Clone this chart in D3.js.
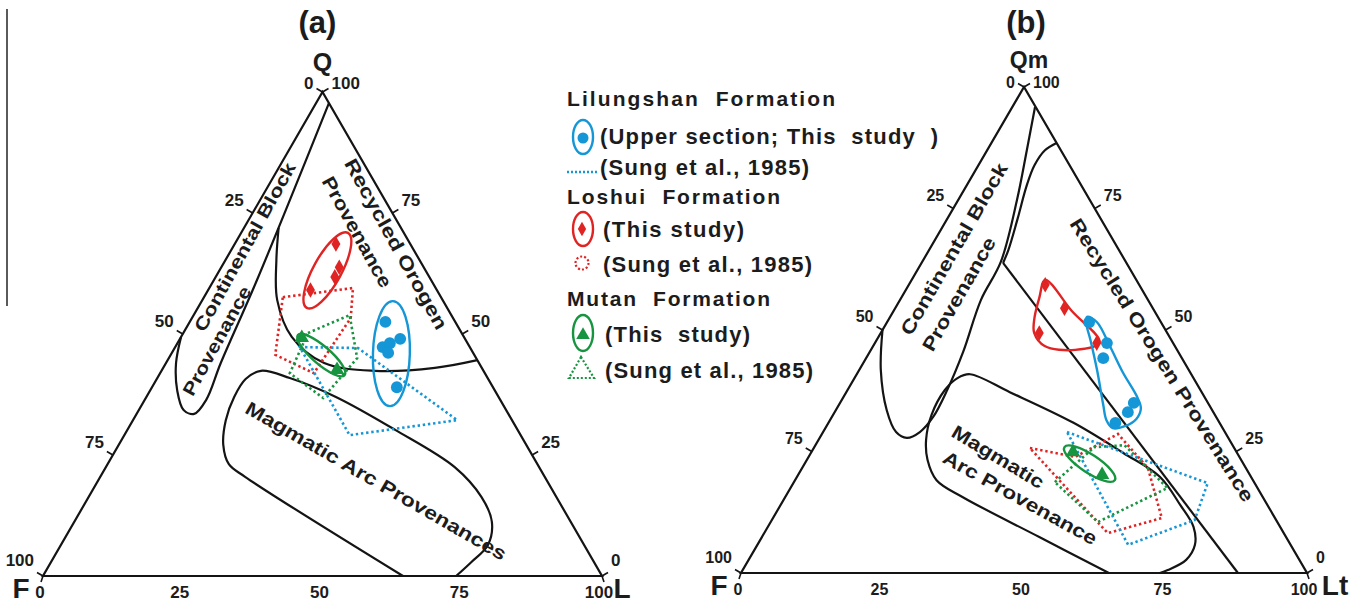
<!DOCTYPE html>
<html>
<head>
<meta charset="utf-8">
<script src="https://cdn.jsdelivr.net/npm/d3@7"></script>
<style>
  html, body { margin: 0; padding: 0; background: #fff; }
  svg { display: block; }
  text { font-family: "Liberation Sans", Arial, Helvetica, sans-serif; font-weight: bold; fill: #1c1c1c; white-space: pre; }
</style>
</head>
<body>
<svg id="chart" width="1364" height="606"></svg>
<script>
// All ternary points are [L, Q] in percent; the third component F = 100 - L - Q.
const tickValues = [0, 25, 50, 75, 100];

// ---- (a) Q-F-L diagram ----
const qflLilungshan = [[35.0, 52.5], [39.4, 49.0], [37.1, 47.3], [38.0, 48.1], [38.7, 46.1], [43.8, 39.0]];
const qflLoshui = [[18.1, 68.6], [21.1, 63.8], [21.3, 61.8], [18.3, 59.1]];
const qflMutan = [[21.7, 49.2], [31.3, 42.6]];
// enclosing ellipses: two ends of the long axis + half width (percent)
const qflLilungshanEnvelope = [[34.2, 56.8], [44.5, 35.1]];
const qflLilungshanEnvelopeHalf = 3.3;
const qflLoshuiEnvelope = [[19.5, 55.4], [19.1, 70.9]];
const qflLoshuiEnvelopeHalf = 2.5;
const qflMutanEnvelope = [[20.7, 49.8], [33.2, 41.5]];
const qflMutanEnvelopeHalf = 1.6;
// Sung et al. (1985) fields
const qflLilungshanSung = [[22.3, 47.3], [32.8, 47.1], [58.0, 32.2], [40.3, 29.1]];
const qflLoshuiSung = [[14.1, 57.6], [25.7, 59.5], [28.4, 53.3], [27.5, 41.9], [18.7, 45.7]];
const qflMutanSung = [[22.3, 50.2], [27.9, 53.9], [33.7, 45.0], [31.7, 36.8], [23.2, 41.9]];
// provenance field boundaries
const qflContinental = [[2.3, 97.7], [7.7, 61.2], [9.8, 44.0], [11.0, 36.4], [10.3, 33.5], [8.0, 34.3], [4.8, 38.4], [1.8, 44.0], [0, 49.4]];
const qflRecycled = [[6.2, 71.9], [9.1, 65.3], [13.4, 57.0], [19.8, 49.4], [28.3, 44.0], [38.2, 42.4], [48.6, 43.0], [55.4, 44.6]];
// runs from the base, up the lower-left side, round the top and back down to the base
const qflMagmatic = [[64.4, 0], [25.9, 20.5], [21.7, 23.1], [18.7, 27.1], [16.6, 32.2], [15.7, 37.0], [15.9, 40.7], [17.8, 42.4],
  [23.7, 40.9], [33.9, 37.0], [47.9, 30.2], [62.4, 22.5], [70.3, 16.3], [74.7, 11.2], [76.4, 6.4], [75.2, 2.9], [73.9, 0]];

// ---- (b) Qm-F-Lt diagram ----
const qmLilungshan = [[35.7, 51.6], [41.0, 47.3], [41.9, 44.2], [51.9, 35.0], [51.8, 33.1], [50.7, 30.9]];
const qmLoshui = [[24.1, 59.3], [29.9, 54.5], [28.0, 49.4], [39.2, 47.3]];
const qmMutan = [[46.2, 24.9], [53.7, 20.2]];
const qmLilungshanEnvelope = [[34.8, 52.7], [37.1, 51.6], [42.0, 46.5], [46.9, 41.2], [51.9, 36.2], [53.7, 33.9], [54.0, 31.7],
  [52.7, 30.2], [50.8, 29.8], [48.8, 31.5], [46.7, 34.6], [42.0, 41.8], [37.8, 47.9], [35.3, 51.4]];
const qmLoshuiEnvelope = [[23.6, 60.3], [31.5, 53.9], [39.6, 47.5], [36.1, 45.9], [30.3, 46.7], [27.1, 49.4], [25.6, 52.5], [24.4, 56.6]];
const qmMutanEnvelope = [[44.2, 25.9], [56.5, 19.1]];
const qmMutanEnvelopeHalf = 1.6;
const qmLilungshanSung = [[43.1, 29.0], [73.2, 18.5], [74.7, 10.9], [65.5, 5.8]];
const qmLoshuiSung = [[38.2, 25.7], [47.1, 23.9], [52.3, 28.6], [61.1, 21.6], [68.7, 11.3], [60.7, 8.2]];
const qmMutanSung = [[46.1, 18.7], [49.5, 25.9], [54.6, 26.3], [66.6, 17.5], [57.8, 10.5]];
const qmContinental = [[4.0, 95.9], [7.0, 87.0], [10.4, 76.7], [13.9, 64.0], [14.3, 56.2], [16.5, 45.5], [17.6, 37.7], [17.9, 32.1],
  [17.1, 29.0], [15.4, 27.8], [12.9, 29.0], [9.0, 33.5], [3.8, 41.8], [0, 50.0]];
const qmRecycledArc = [[11.5, 88.5], [10.2, 87.0], [9.9, 83.9], [10.6, 79.8], [12.5, 72.6], [14.0, 66.5], [14.4, 63.8]];
const qmRecycledLine = [[14.4, 63.8], [87.8, 0]];
const qmMagmatic = [[65.0, 0], [49.0, 7.4], [31.4, 15.6], [25.0, 19.1], [21.3, 23.3], [19.0, 27.4], [17.4, 32.5], [17.2, 37.7],
  [18.2, 40.1], [20.0, 40.9], [28.9, 37.2], [43.3, 30.9], [55.2, 24.7], [64.1, 19.8], [70.6, 14.0], [75.2, 9.5], [77.3, 5.8],
  [77.3, 2.7], [75.1, 0.6], [74.0, 0]];

const BLUE = "#1596d6", RED = "#e02424", GREEN = "#17943f", INK = "#141414";

const svg = d3.select("#chart");

// thin rule along the left margin
svg.append("line").attr("x1", 7).attr("x2", 7).attr("y1", 9).attr("y2", 306)
  .attr("stroke", INK).attr("stroke-width", 1.4);

function panel(box) {
  const sx = d3.scaleLinear().domain([0, 100]).range([box.x0, box.x1]);
  const sy = d3.scaleLinear().domain([0, 100]).range([box.yBase, box.yApex]);
  const proj = d => [sx(d[0] + d[1] / 2), sy(d[1])];
  const unit = (box.x1 - box.x0) / 100;
  const g = svg.append("g");
  return { g, proj, unit, sx, sy };
}

function drawFrame(P, box, labels) {
  const { g, proj } = P;
  const corners = [proj([0, 0]), proj([100, 0]), proj([0, 100])];
  g.append("path").attr("d", d3.line()([corners[0], corners[1], corners[2]]) + "Z")
    .attr("fill", "none").attr("stroke", INK).attr("stroke-width", 2.2).attr("stroke-linejoin", "miter");

  // left edge: F percent (0 at apex, 100 at F corner)
  tickValues.forEach(v => {
    const p = proj([0, 100 - v]);
    const lift = v === 0 ? box.apexLift : v === 100 ? box.cornerLift : box.tickLift;
    g.append("line").attr("x1", p[0]).attr("y1", p[1]).attr("x2", p[0] - 6).attr("y2", p[1] - 3.5)
      .attr("stroke", INK).attr("stroke-width", 1.6);
    g.append("text").attr("x", p[0] - 9).attr("y", p[1] - lift).attr("text-anchor", "end")
      .attr("font-size", box.tickFont).text(v);
  });
  // right edge: Q percent (100 at apex, 0 at L corner)
  tickValues.forEach(v => {
    const p = proj([100 - v, v]);
    const lift = v === 100 ? box.apexLift : v === 0 ? box.cornerLift : box.tickLift;
    g.append("line").attr("x1", p[0]).attr("y1", p[1]).attr("x2", p[0] + 6).attr("y2", p[1] - 3.5)
      .attr("stroke", INK).attr("stroke-width", 1.6);
    g.append("text").attr("x", p[0] + 9).attr("y", p[1] - lift).attr("text-anchor", "start")
      .attr("font-size", box.tickFont).text(v);
  });
  // base: L percent
  tickValues.forEach(v => {
    const p = proj([v, 0]);
    if (v === 0 || v === 100) {
      g.append("line").attr("x1", p[0]).attr("y1", p[1]).attr("x2", p[0] + (v === 0 ? -2 : 2)).attr("y2", p[1] + 6)
        .attr("stroke", INK).attr("stroke-width", 1.6);
    }
    g.append("text").attr("x", p[0] - 3).attr("y", p[1] + 22).attr("text-anchor", "middle")
      .attr("font-size", box.tickFont).text(v);
  });

  const apex = proj([0, 100]);
  g.append("text").attr("x", apex[0] + box.topDx).attr("y", apex[1] - box.topLift).attr("text-anchor", "middle")
    .attr("font-size", box.topFont).text(labels.top);
  g.append("text").attr("x", corners[0][0] - 22).attr("y", corners[0][1] + 22).attr("text-anchor", "middle")
    .attr("font-size", 28).text(labels.left);
  g.append("text").attr("x", corners[1][0] + box.rightDx).attr("y", corners[1][1] + 22).attr("text-anchor", "middle")
    .attr("font-size", 28).text(labels.right);
  g.append("text").attr("x", apex[0] + box.titleDx).attr("y", 33).attr("text-anchor", "middle")
    .attr("font-size", 31).text(labels.title);
}

function field(P, pts) {
  const line = d3.line().curve(d3.curveCatmullRom.alpha(0.5));
  P.g.append("path").attr("d", line(pts.map(P.proj)))
    .attr("fill", "none").attr("stroke", INK).attr("stroke-width", 2.2);
}

function straight(P, pts) {
  P.g.append("path").attr("d", d3.line()(pts.map(P.proj)))
    .attr("fill", "none").attr("stroke", INK).attr("stroke-width", 2.2);
}

function sungField(P, pts, color) {
  P.g.append("path").attr("d", d3.line()(pts.map(P.proj)) + "Z")
    .attr("fill", "none").attr("stroke", color).attr("stroke-width", 2.6)
    .attr("stroke-dasharray", "2.4,2.8");
}

function ellipse(P, tips, half, color) {
  const a = P.proj(tips[0]), b = P.proj(tips[1]);
  const cx = (a[0] + b[0]) / 2, cy = (a[1] + b[1]) / 2;
  const rx = Math.hypot(b[0] - a[0], b[1] - a[1]) / 2;
  const ang = Math.atan2(b[1] - a[1], b[0] - a[0]) * 180 / Math.PI;
  P.g.append("ellipse").attr("cx", cx).attr("cy", cy).attr("rx", rx).attr("ry", half * P.unit)
    .attr("transform", `rotate(${ang},${cx},${cy})`)
    .attr("fill", "none").attr("stroke", color).attr("stroke-width", 2.4);
}

function envelope(P, pts, color) {
  P.g.append("path").attr("d", d3.line().curve(d3.curveCatmullRomClosed.alpha(0.5))(pts.map(P.proj)))
    .attr("fill", "none").attr("stroke", color).attr("stroke-width", 2.4);
}

function points(P, pts, type, size, color) {
  const sym = d3.symbol().type(type).size(size);
  P.g.selectAll(null).data(pts).join("path")
    .attr("d", sym)
    .attr("transform", d => { const p = P.proj(d); return `translate(${p[0]},${p[1]})`; })
    .attr("fill", color);
}

function label(g, txt, x, y, angle, len, size) {
  g.append("text").attr("transform", `translate(${x},${y}) rotate(${angle})`)
    .attr("text-anchor", "middle").attr("dominant-baseline", "central")
    .attr("font-size", size).attr("textLength", len).attr("lengthAdjust", "spacingAndGlyphs").text(txt);
}

// ---------- panel (a) ----------
const boxA = { x0: 43, x1: 602, yBase: 576, yApex: 92, tickFont: 17, tickLift: 7, apexLift: 3, cornerLift: 10,
  topFont: 25, topLift: 21, topDx: 0, rightDx: 20, titleDx: -5 };
const A = panel(boxA);
drawFrame(A, boxA, { top: "Q", left: "F", right: "L", title: "(a)" });
field(A, qflContinental);
field(A, qflRecycled);
field(A, qflMagmatic);
label(A.g, "Continental Block", 245, 247, -61, 190, 18);
label(A.g, "Provenance", 217, 341, -61, 122, 18);
label(A.g, "Recycled Orogen", 396, 244, 61, 192, 19);
label(A.g, "Provenance", 357, 232, 61, 124, 19);
label(A.g, "Magmatic Arc Provenances", 376, 481, 30, 298, 19);

sungField(A, qflLoshuiSung, RED);
sungField(A, qflMutanSung, GREEN);
sungField(A, qflLilungshanSung, BLUE);
ellipse(A, qflLoshuiEnvelope, qflLoshuiEnvelopeHalf, RED);
ellipse(A, qflLilungshanEnvelope, qflLilungshanEnvelopeHalf, BLUE);
ellipse(A, qflMutanEnvelope, qflMutanEnvelopeHalf, GREEN);
points(A, qflLoshui, d3.symbolDiamond, 70, RED);
points(A, qflLilungshan, d3.symbolCircle, 110, BLUE);
points(A, qflMutan, d3.symbolTriangle, 90, GREEN);

// ---------- panel (b) ----------
const boxB = { x0: 741, x1: 1307, yBase: 573, yApex: 87, tickFont: 16, tickLift: 8, apexLift: -1, cornerLift: 10,
  topFont: 23, topLift: 19, topDx: 5, rightDx: 28, titleDx: 2 };
const B = panel(boxB);
drawFrame(B, boxB, { top: "Qm", left: "F", right: "Lt", title: "(b)" });
field(B, qmContinental);
field(B, qmRecycledArc);
straight(B, qmRecycledLine);
field(B, qmMagmatic);
label(B.g, "Continental Block", 954, 249, -60, 195, 19);
label(B.g, "Provenance", 959, 294, -60, 128, 19);
label(B.g, "Recycled Orogen Provenance", 1162, 360, 58, 330, 19);
label(B.g, "Magmatic", 998, 457, 31, 104, 19);
label(B.g, "Arc Provenance", 1020, 498, 29, 173, 19);

sungField(B, qmLoshuiSung, RED);
sungField(B, qmMutanSung, GREEN);
sungField(B, qmLilungshanSung, BLUE);
envelope(B, qmLoshuiEnvelope, RED);
envelope(B, qmLilungshanEnvelope, BLUE);
ellipse(B, qmMutanEnvelope, qmMutanEnvelopeHalf, GREEN);
points(B, qmLoshui, d3.symbolDiamond, 70, RED);
points(B, qmLilungshan, d3.symbolCircle, 110, BLUE);
points(B, qmMutan, d3.symbolTriangle, 90, GREEN);

// ---------- legend ----------
const lg = svg.append("g");
function ltext(txt, x, y, len, size) {
  lg.append("text").attr("x", x).attr("y", y).attr("font-size", size)
    .attr("textLength", len).attr("lengthAdjust", "spacing").text(txt);
}
ltext("Lilungshan  Formation", 567, 106, 268, 21);
lg.append("ellipse").attr("cx", 583).attr("cy", 137).attr("rx", 10).attr("ry", 17)
  .attr("fill", "none").attr("stroke", BLUE).attr("stroke-width", 2.4);
lg.append("circle").attr("cx", 583).attr("cy", 138).attr("r", 5.5).attr("fill", BLUE);
ltext("(Upper section; This  study  )", 600, 144, 338, 22);
lg.append("line").attr("x1", 567).attr("x2", 598).attr("y1", 172).attr("y2", 172)
  .attr("stroke", BLUE).attr("stroke-width", 2.4).attr("stroke-dasharray", "2,2");
ltext("(Sung et al., 1985)", 600, 175, 209, 22);

ltext("Loshui  Formation", 567, 204, 213, 21);
lg.append("ellipse").attr("cx", 583).attr("cy", 229).attr("rx", 10).attr("ry", 17)
  .attr("fill", "none").attr("stroke", RED).attr("stroke-width", 2.4);
lg.append("path").attr("d", d3.symbol().type(d3.symbolDiamond).size(60)).attr("transform", "translate(582,229)").attr("fill", RED);
ltext("(This study)", 603, 237, 141, 22);
lg.append("circle").attr("cx", 582).attr("cy", 263).attr("r", 6.5)
  .attr("fill", "none").attr("stroke", RED).attr("stroke-width", 2.2).attr("stroke-dasharray", "2,2");
ltext("(Sung et al., 1985)", 603, 272, 209, 22);

ltext("Mutan  Formation", 567, 306, 203, 21);
lg.append("ellipse").attr("cx", 583).attr("cy", 333).attr("rx", 10).attr("ry", 18)
  .attr("fill", "none").attr("stroke", GREEN).attr("stroke-width", 2.4);
lg.append("path").attr("d", d3.symbol().type(d3.symbolTriangle).size(80)).attr("transform", "translate(583,335)").attr("fill", GREEN);
ltext("(This  study)", 605, 342, 145, 22);
lg.append("path").attr("d", "M581,357 L569,378 L594,378 Z")
  .attr("fill", "none").attr("stroke", GREEN).attr("stroke-width", 2.2).attr("stroke-dasharray", "2,2");
ltext("(Sung et al., 1985)", 605, 378, 208, 22);
</script>
</body>
</html>
